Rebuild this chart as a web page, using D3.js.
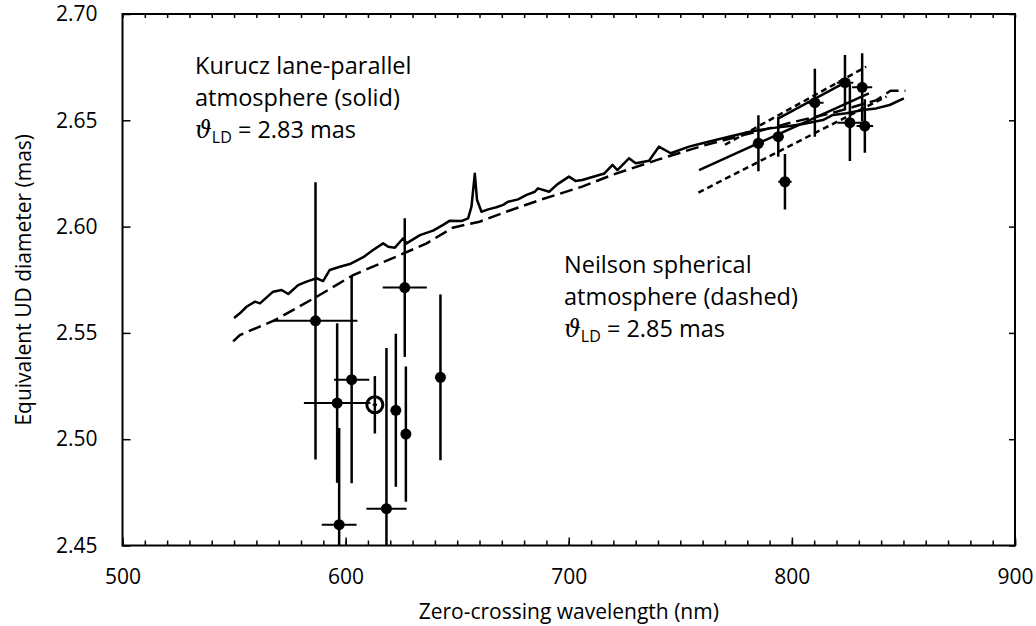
<!DOCTYPE html>
<html>
<head>
<meta charset="utf-8">
<script src="https://cdn.jsdelivr.net/npm/d3@7"></script>
<style>
    body { margin: 0; background: #fff; }
    text { font-family: 'Open Sans', sans-serif; fill: #000; }
</style>
</head>
<body>
<div id="chart"></div>
<script>
// Kurucz plane-parallel model (solid, noisy)
const kuruczWl = [550.0, 552.6, 555.6, 559.4, 561.6, 567.5, 571.3, 574.3, 578.7, 582.5, 587.0, 589.9,
    592.9, 597.4, 601.9, 607.9, 612.3, 616.8, 619.1, 622.1, 625.8, 627.3, 633.3, 639.2, 643.7, 646.7,
    651.9, 654.9, 656.4, 657.9, 658.9, 660.9, 663.9, 667.6, 670.6, 672.8, 677.3, 681.1, 684.8, 686.2,
    691.2, 695.0, 700.1, 703.0, 706.1, 712.1, 716.0, 719.6, 721.8, 727.0, 730.0, 736.0, 740.4, 745.7,
    753.9, 759.9, 765.8, 771.8, 781.1, 790.0, 799.0, 805.0, 813.9, 818.4, 824.4, 831.8, 837.8, 843.8, 850.2];
const kuruczUd = [2.5570, 2.5592, 2.5623, 2.5647, 2.5639, 2.5694, 2.5702, 2.5683, 2.5725, 2.5741, 2.5757, 2.5744,
    2.5796, 2.5811, 2.5824, 2.5856, 2.5890, 2.5921, 2.5905, 2.5901, 2.5945, 2.5921, 2.5960, 2.5981, 2.6008, 2.6028,
    2.6026, 2.6039, 2.6094, 2.6249, 2.6125, 2.6070, 2.6081, 2.6091, 2.6102, 2.6117, 2.6128, 2.6149, 2.6164, 2.6180,
    2.6164, 2.6200, 2.6235, 2.6215, 2.6219, 2.6238, 2.6250, 2.6290, 2.6266, 2.6321, 2.6298, 2.6310, 2.6376, 2.6345,
    2.6376, 2.6392, 2.6407, 2.6423, 2.6446, 2.6462, 2.6473, 2.6483, 2.6501, 2.6525, 2.6533, 2.6548, 2.6556, 2.6572, 2.6603];

// Neilson spherical model (long dashes)
const neilsonWl = [549.6, 552.6, 568.3, 587.0, 603.4, 624.3, 636.3, 648.0, 660.0, 672.0, 687.0, 706.0,
    720.0, 740.0, 760.0, 780.0, 800.0, 820.0, 838.0, 844.2, 850.9];
const neilsonUd = [2.5460, 2.5490, 2.5560, 2.5670, 2.5772, 2.5866, 2.5921, 2.5995, 2.6023, 2.6070, 2.6125, 2.6188,
    2.6245, 2.6315, 2.6380, 2.6435, 2.6490, 2.6540, 2.6595, 2.6639, 2.6639];

// straight fit lines through the red points
const fitNames = ['solidLow', 'dashLow', 'solidHigh', 'dashHigh'];
const fitWl = [[758.4, 834.5], [758.1, 842.4], [794.0, 826.0], [770.0, 833.3]];
const fitUd = [[2.6266, 2.6627], [2.6160, 2.6612], [2.6509, 2.6690], [2.6385, 2.6752]];

// measured points (filled)
const pointWl    = [586.5, 596.2, 602.7, 597.1, 618.3, 622.5, 627.0, 626.5, 642.5,
    785.0, 793.9, 796.9, 810.3, 823.8, 831.5, 826.0, 832.7];
const pointUd    = [2.5557, 2.5170, 2.5280, 2.4598, 2.4673, 2.5136, 2.5024, 2.5713, 2.5291,
    2.6392, 2.6423, 2.6211, 2.6583, 2.6677, 2.6655, 2.6489, 2.6473];
const pointWlErr = [18.8, 14.9, 7.9, 7.8, 9.0, 0, 0, 9.9, 0,
    2.5, 2.5, 3.0, 3.9, 3.7, 4.5, 5.6, 3.7];
const pointUdErr = [0.0652, 0.0375, 0.0487, 0.0455, 0.0756, 0.0360, 0.0318, 0.0326, 0.0390,
    0.0132, 0.0094, 0.0130, 0.0160, 0.0130, 0.0160, 0.0180, 0.0126];

// open circle point
const openWl = [613.1];
const openUd = [2.5162];
const openWlErr = [1.0];
const openUdErr = [0.0135];

const xTicks = [500, 600, 700, 800, 900];
const yTicks = [2.45, 2.50, 2.55, 2.60, 2.65, 2.70];

class UdChart {

    constructor(_config) {
        this.config = {
            parentElement: _config.parentElement,
            containerWidth: _config.width,
            containerHeight: _config.height,
            margin: { top: 14, right: 21, bottom: 80.5, left: 122.5 }
        }
        this.initVis();
    }

    initVis() {
        let vis = this;
        vis.width = vis.config.containerWidth - vis.config.margin.left - vis.config.margin.right;
        vis.height = vis.config.containerHeight - vis.config.margin.top - vis.config.margin.bottom;

        vis.svg = d3.select(vis.config.parentElement)
            .append('svg')
            .attr('width', vis.config.containerWidth)
            .attr('height', vis.config.containerHeight);

        vis.chart = vis.svg.append('g')
            .attr('transform', `translate(${vis.config.margin.left},${vis.config.margin.top})`);

        vis.xScale = d3.scaleLinear()
            .domain([500, 900])
            .range([0, vis.width]);
        vis.yScale = d3.scaleLinear()
            .domain([2.45, 2.70])
            .range([vis.height, 0]);

        vis.svg.append('defs')
            .append('clipPath')
            .attr('id', 'plot-clip')
            .append('rect')
            .attr('width', vis.width)
            .attr('height', vis.height);

        vis.renderAxes();
        vis.renderVis();
        vis.renderLabels();
    }

    renderAxes() {
        let vis = this;
        let minor = d3.range(500, 901, 10);

        vis.chart.append('g')
            .attr('transform', `translate(0,${vis.height})`)
            .call(d3.axisBottom(vis.xScale).tickValues(minor).tickSize(-5).tickSizeOuter(0).tickFormat(''));
        vis.chart.append('g')
            .attr('class', 'x-axis')
            .attr('transform', `translate(0,${vis.height})`)
            .call(d3.axisBottom(vis.xScale).tickValues(xTicks).tickSize(-8).tickSizeOuter(0).tickPadding(24).tickFormat(d3.format('d')));
        vis.chart.append('g')
            .call(d3.axisTop(vis.xScale).tickValues(minor).tickSize(-4).tickSizeOuter(0).tickFormat(''));
        vis.chart.append('g')
            .attr('class', 'y-axis')
            .call(d3.axisLeft(vis.yScale).tickValues(yTicks).tickSize(-8).tickSizeOuter(0).tickPadding(25).tickFormat(d3.format('.2f')));
        vis.chart.append('g')
            .attr('transform', `translate(${vis.width},0)`)
            .call(d3.axisRight(vis.yScale).tickValues(yTicks).tickSize(-6).tickSizeOuter(0).tickFormat(''));

        vis.chart.selectAll('.tick line')
            .attr('stroke', '#000')
            .attr('stroke-width', 1.5);
        vis.chart.selectAll('.domain').remove();
        vis.chart.selectAll('.tick text')
            .style('font-size', '21px')
            .style('font-family', "'Open Sans', sans-serif");

        vis.chart.append('rect')
            .attr('width', vis.width)
            .attr('height', vis.height)
            .attr('fill', 'none')
            .attr('stroke', '#000')
            .attr('stroke-width', 2);
    }

    renderVis() {
        let vis = this;
        let plot = vis.chart.append('g')
            .attr('clip-path', 'url(#plot-clip)');

        let line = d3.line()
            .x((d) => vis.xScale(d[0]))
            .y((d) => vis.yScale(d[1]));

        plot.append('path')
            .datum(kuruczWl.map((d, i) => [d, kuruczUd[i]]))
            .attr('d', line)
            .attr('fill', 'none')
            .attr('stroke', '#000')
            .attr('stroke-width', 2.5)
            .attr('stroke-linejoin', 'round');

        plot.append('path')
            .datum(neilsonWl.map((d, i) => [d, neilsonUd[i]]))
            .attr('d', line)
            .attr('fill', 'none')
            .attr('stroke', '#000')
            .attr('stroke-width', 2.5)
            .style('stroke-dasharray', '13,6');

        fitNames.forEach((name, i) => {
            plot.append('path')
                .datum(fitWl[i].map((d, j) => [d, fitUd[i][j]]))
                .attr('d', line)
                .attr('fill', 'none')
                .attr('stroke', '#000')
                .attr('stroke-width', 2.5)
                .style('stroke-dasharray', name.startsWith('dash') ? '6,4' : null);
        });

        let pts = pointWl.map((d, i) => ({ wl: d, ud: pointUd[i], ex: pointWlErr[i], ey: pointUdErr[i] }));
        let open = openWl.map((d, i) => ({ wl: d, ud: openUd[i], ex: openWlErr[i], ey: openUdErr[i] }));

        let bars = plot.selectAll('.err-bar')
            .data(pts.concat(open))
            .enter()
            .append('g')
            .attr('class', 'err-bar');
        bars.append('line')
            .attr('x1', (d) => vis.xScale(d.wl))
            .attr('x2', (d) => vis.xScale(d.wl))
            .attr('y1', (d) => vis.yScale(d.ud - d.ey))
            .attr('y2', (d) => vis.yScale(d.ud + d.ey))
            .attr('stroke', '#000')
            .attr('stroke-width', 2.5);
        bars.filter((d) => d.ex > 0)
            .append('line')
            .attr('x1', (d) => vis.xScale(d.wl - d.ex))
            .attr('x2', (d) => vis.xScale(d.wl + d.ex))
            .attr('y1', (d) => vis.yScale(d.ud))
            .attr('y2', (d) => vis.yScale(d.ud))
            .attr('stroke', '#000')
            .attr('stroke-width', 2);

        plot.selectAll('.pt')
            .data(pts)
            .enter()
            .append('circle')
            .attr('class', 'pt')
            .attr('cx', (d) => vis.xScale(d.wl))
            .attr('cy', (d) => vis.yScale(d.ud))
            .attr('r', 5.5)
            .attr('fill', '#000');

        plot.selectAll('.open-pt')
            .data(open)
            .enter()
            .append('circle')
            .attr('class', 'open-pt')
            .attr('cx', (d) => vis.xScale(d.wl))
            .attr('cy', (d) => vis.yScale(d.ud))
            .attr('r', 8)
            .attr('fill', 'none')
            .attr('stroke', '#000')
            .attr('stroke-width', 3);
    }

    renderLabels() {
        let vis = this;
        let m = vis.config.margin;

        vis.svg.append('text')
            .attr('x', m.left + vis.width / 2)
            .attr('y', 619)
            .style('font-size', '21px')
            .style('text-anchor', 'middle')
            .text('Zero-crossing wavelength (nm)');
        vis.svg.append('text')
            .attr('transform', `translate(31,${m.top + vis.height / 2}) rotate(-90)`)
            .style('font-size', '21px')
            .style('text-anchor', 'middle')
            .text('Equivalent UD diameter (mas)');

        let notes = [
            { x: 195, y: 74, lines: ['Kurucz lane-parallel', 'atmosphere (solid)'], value: '2.83' },
            { x: 564, y: 273, lines: ['Neilson spherical', 'atmosphere (dashed)'], value: '2.85' }
        ];
        notes.forEach((n) => {
            let t = vis.svg.append('text')
                .attr('x', n.x)
                .attr('y', n.y)
                .style('font-size', '23.5px');
            n.lines.forEach((l, i) => {
                t.append('tspan')
                    .attr('x', n.x)
                    .attr('dy', i == 0 ? 0 : 32)
                    .text(l);
            });
            let v = vis.svg.append('text')
                .attr('x', n.x)
                .attr('y', n.y + 64)
                .style('font-size', '23.5px');
            v.append('tspan')
                .style('font-style', 'italic')
                .style('font-family', "'DejaVu Serif', serif")
                .text('\u03D1');
            v.append('tspan')
                .attr('dy', 5)
                .style('font-size', '16px')
                .text('LD');
            v.append('tspan')
                .attr('dy', -5)
                .text(` = ${n.value} mas`);
        });
    }
}

new UdChart({ parentElement: '#chart', width: 1036, height: 626 });
</script>
</body>
</html>
